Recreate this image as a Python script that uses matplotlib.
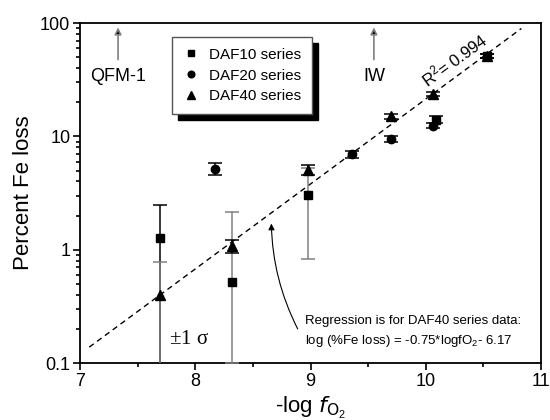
import matplotlib
matplotlib.use("Agg")
import matplotlib.pyplot as plt
from matplotlib.patches import Rectangle
from matplotlib.transforms import IdentityTransform
from matplotlib.ticker import MultipleLocator, LogLocator, NullFormatter, FuncFormatter
import numpy as np

plt.rcParams['font.family'] = ['Liberation Sans', 'DejaVu Sans']
plt.rcParams['mathtext.default'] = 'regular'

# DAF10 series (squares)
daf10_x = [7.69, 8.32, 8.976, 10.09, 10.53]
daf10_y = [1.26, 0.52, 3.03, 14.0, 51.0]
daf10_lo = [1.24, 0.42, 2.20, 1.0, 2.0]
daf10_hi = [1.24, 1.63, 2.20, 1.0, 2.0]
daf10_ecol = ['black', 'gray', 'gray', 'black', 'black']

# DAF20 series (circles)
daf20_x = [8.17, 9.36, 9.70, 10.06]
daf20_y = [5.19, 7.0, 9.5, 12.4]
daf20_err = [0.6, 0.5, 0.5, 0.6]

# DAF40 series (triangles)
daf40_x = [7.69, 8.32, 8.976, 9.70, 10.06, 10.53]
daf40_y = [0.40, 1.07, 5.05, 15.0, 23.5, 51.5]
daf40_err = [0.38, 0.14, 0.50, 0.7, 1.0, 2.0]
daf40_ecol = ['gray', 'black', 'black', 'black', 'black', 'black']

# regression: log(%Fe loss) = 0.75 * x - 6.17
fit_x = np.array([7.08, 10.83])
fit_y = 10 ** (0.75 * fit_x - 6.17)

fig = plt.figure(figsize=(5.5, 4.2), dpi=100)
ax = fig.add_axes([0.1455, 0.1357, 0.8381, 0.8093])

ax.plot(fit_x, fit_y, ls=(0, (4, 3)), color='black', lw=1.0, zorder=2)

for x, y, lo, hi, c in zip(daf10_x, daf10_y, daf10_lo, daf10_hi, daf10_ecol):
    ax.errorbar([x], [y], yerr=[[lo], [hi]], fmt='none', ecolor=c, elinewidth=1.1,
                capsize=5, capthick=1.1, zorder=3)
for x, y, e, c in zip(daf40_x, daf40_y, daf40_err, daf40_ecol):
    ax.errorbar([x], [y], yerr=[[e], [e]], fmt='none', ecolor=c, elinewidth=1.1,
                capsize=5, capthick=1.1, zorder=3)
ax.errorbar(daf20_x, daf20_y, yerr=daf20_err, fmt='none', ecolor='black',
            elinewidth=1.1, capsize=5, capthick=1.1, zorder=3)

ax.plot(daf10_x, daf10_y, 's', color='black', ms=6, ls='none', label='DAF10 series', zorder=4)
ax.plot(daf20_x, daf20_y, 'o', color='black', ms=6, ls='none', label='DAF20 series', zorder=4)
ax.plot(daf40_x, daf40_y, '^', color='black', ms=7, ls='none', label='DAF40 series', zorder=4)

ax.set_yscale('log')
ax.set_xlim(7, 11)
ax.set_ylim(0.1, 100)
ax.xaxis.set_major_locator(MultipleLocator(1))
ax.xaxis.set_minor_locator(MultipleLocator(0.5))
ax.yaxis.set_major_locator(LogLocator(base=10, numticks=10))
ax.yaxis.set_minor_locator(LogLocator(base=10, subs=np.arange(2, 10), numticks=10))
ax.yaxis.set_minor_formatter(NullFormatter())
ax.yaxis.set_major_formatter(FuncFormatter(lambda v, p: '{:g}'.format(v)))
ax.tick_params(which='both', direction='out', top=False, right=False, labelsize=13, width=1.2)
ax.tick_params(which='major', length=5, pad=2)
ax.tick_params(which='minor', length=3)
for s in ax.spines.values():
    s.set_linewidth(1.3)

ax.set_ylabel('Percent Fe loss', fontsize=16, labelpad=4)
ax.set_xlabel(r'-log $\mathit{f}_{\mathrm{O}_2}$', fontsize=16, labelpad=4)

# redox buffer arrows
ax.annotate('', xy=(7.33, 97), xytext=(7.33, 45),
            arrowprops=dict(arrowstyle='-|>', color='gray', lw=1.2, mutation_scale=10,
                            fc='black', ec='gray'))
ax.text(7.33, 34, 'QFM-1', fontsize=13, ha='center', va='center')
ax.annotate('', xy=(9.55, 97), xytext=(9.55, 45),
            arrowprops=dict(arrowstyle='-|>', color='gray', lw=1.2, mutation_scale=10,
                            fc='black', ec='gray'))
ax.text(9.55, 34, 'IW', fontsize=13, ha='center', va='center')

ax.text(10.25, 47, r'R$^2$= 0.994', fontsize=12, rotation=36, ha='center', va='center',
        rotation_mode='anchor')

ax.text(7.95, 0.16, r'$\pm$1 σ', fontsize=15, family='Liberation Serif', ha='center', va='center')

ax.text(8.95, 0.235, 'Regression is for DAF40 series data:', fontsize=9.5, ha='left', va='center')
ax.text(8.95, 0.155, r'log (%Fe loss) = -0.75*logfO$_2$- 6.17', fontsize=9.5, ha='left', va='center')

ax.annotate('', xy=(8.66, 1.8), xytext=(8.9, 0.19),
            arrowprops=dict(arrowstyle='-|>', color='black', lw=0.8, mutation_scale=9,
                            connectionstyle='arc3,rad=-0.12'))

leg = ax.legend(loc='upper left', bbox_to_anchor=(0.2, 0.959), borderaxespad=0,
                frameon=True, fancybox=False, fontsize=11, handlelength=1.0,
                handletextpad=0.7, labelspacing=0.45, borderpad=0.7, numpoints=1,
                markerscale=0.8)
leg.get_frame().set_edgecolor('#555555')
leg.get_frame().set_linewidth(1.0)
leg.get_frame().set_alpha(1)
leg.set_zorder(6)

# black drop shadow behind the legend box
fig.canvas.draw()
bb = leg.get_window_extent()
shadow = Rectangle((bb.x0 + 6, bb.y0 - 6), bb.width, bb.height,
                   transform=IdentityTransform(), facecolor='black',
                   edgecolor='black', zorder=5.5, clip_on=False)
ax.add_artist(shadow)

fig.savefig('out.png', dpi=100)
